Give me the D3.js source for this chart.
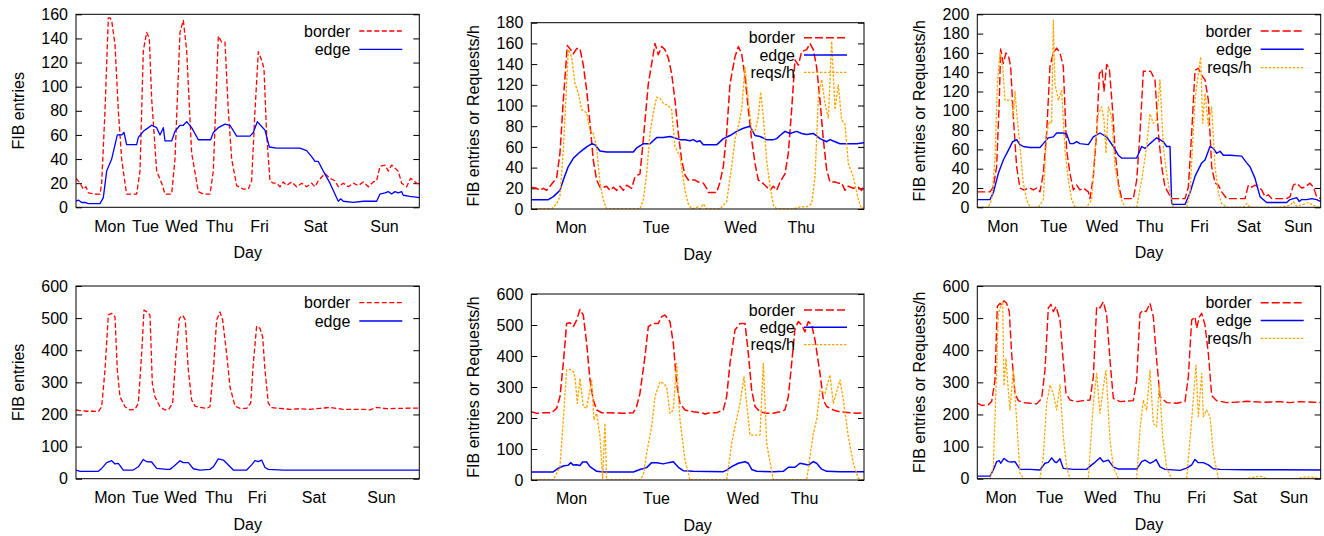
<!DOCTYPE html>
<html>
<head>
<meta charset="utf-8">
<script src="https://cdn.jsdelivr.net/npm/d3@7"></script>
<style>
  body { margin: 0; background: #fff; }
  svg text { font-family: "Liberation Sans", Arial, sans-serif; font-size: 16px; fill: #000; }
</style>
</head>
<body>
<svg id="chart"></svg>
<script>
// x values are sample positions along each trace, y values are FIB entries or requests/h
const weekDays = ["Mon", "Tue", "Wed", "Thu", "Fri", "Sat", "Sun"];
const fourDays = ["Mon", "Tue", "Wed", "Thu"];

const p1DayTicks = [100, 207, 315, 429, 549, 717, 924];
const p2DayTicks = [118, 373, 626, 808];
const p3DayTicks = [75, 228, 373, 516, 665, 813, 961];
const p4DayTicks = [100, 207, 312, 427, 542, 712, 915];
const p5DayTicks = [119, 374, 634, 818];
const p6DayTicks = [70, 216, 368, 508, 656, 801, 948];

const p1Border = [[0,24],[12,20],[22,15],[30,17],[37,12],[57,11],[72,11],[77,20],[87,80],[97,157],[102,157],[107,155],[117,135],[127,80],[137,40],[147,20],[152,11],[182,11],[192,30],[202,130],[212,145],[220,140],[227,90],[242,30],[257,20],[267,11],[287,11],[297,40],[312,145],[322,155],[332,130],[347,45],[367,13],[382,11],[402,11],[412,30],[427,142],[437,137],[447,137],[457,80],[467,40],[482,18],[502,15],[517,15],[527,22],[537,80],[547,129],[557,122],[564,115],[572,60],[582,22],[592,20],[602,20],[612,17],[622,21],[632,18],[647,21],[662,17],[677,20],[692,17],[707,20],[717,17],[727,22],[747,28],[762,24],[777,22],[787,17],[802,20],[817,17],[832,20],[847,18],[862,21],[877,17],[892,21],[902,22],[912,34],[927,35],[937,30],[947,35],[967,30],[977,20],[992,17],[1004,24],[1022,20],[1030,19]];
const p1Edge = [[0,5],[7,6],[17,4],[27,4],[37,3],[72,3],[82,8],[92,30],[107,40],[124,60],[137,60],[144,62],[152,52],[182,52],[187,58],[202,63],[212,65],[227,68],[242,66],[252,60],[262,66],[267,55],[287,55],[297,63],[312,68],[322,68],[332,71],[347,66],[367,56],[404,56],[412,62],[427,66],[447,69],[462,68],[482,59],[522,59],[532,62],[544,71],[557,67],[567,64],[580,50],[602,49],[672,49],[692,47],[707,42],[717,38],[727,38],[742,30],[762,20],[782,8],[787,5],[794,7],[802,5],[832,4],[862,5],[902,5],[912,11],[927,12],[937,13],[947,11],[957,13],[967,12],[977,13],[982,10],[1002,9],[1030,8]];

const p2Border = [[0,21],[16,20],[26,18],[36,20],[46,18],[56,22],[66,26],[76,30],[86,54],[96,105],[108,158],[118,154],[126,150],[136,155],[146,155],[156,139],[166,115],[176,83],[186,47],[196,28],[206,21],[216,21],[226,22],[236,18],[246,21],[256,18],[266,22],[276,18],[286,23],[301,20],[311,31],[326,34],[336,67],[351,121],[366,150],[371,160],[381,149],[391,157],[401,154],[411,146],[421,131],[431,105],[441,73],[451,47],[461,33],[471,28],[491,28],[501,26],[516,25],[526,20],[531,16],[556,16],[566,26],[576,41],[586,73],[596,121],[611,147],[621,157],[631,150],[641,128],[651,96],[661,67],[671,44],[681,28],[691,26],[701,23],[716,18],[726,22],[736,18],[746,26],[761,34],[771,54],[781,96],[791,144],[801,139],[811,152],[826,154],[836,160],[846,154],[856,137],[866,105],[876,67],[886,38],[896,26],[911,26],[921,25],[931,25],[941,18],[951,22],[966,20],[981,21],[991,18],[998,23]];
const p2Edge = [[0,9],[26,9],[51,9],[66,12],[86,18],[96,28],[111,41],[126,49],[146,55],[166,60],[181,63],[191,62],[206,56],[226,55],[256,55],[286,55],[306,55],[316,59],[336,63],[356,63],[376,69],[396,69],[416,70],[426,69],[446,67],[461,67],[476,66],[486,67],[496,65],[506,66],[516,62],[526,62],[556,62],[576,68],[596,71],[616,75],[636,78],[656,80],[671,71],[686,70],[706,67],[726,67],[736,68],[746,71],[761,75],[776,73],[796,75],[811,73],[826,72],[846,73],[866,68],[886,65],[896,67],[911,65],[926,63],[956,63],[976,63],[998,64]];
const p2Reqs = [[0,0],[61,0],[76,5],[86,12],[96,57],[106,121],[111,154],[121,147],[131,121],[141,112],[151,96],[166,93],[176,76],[186,73],[196,60],[206,25],[216,9],[226,0],[326,0],[336,9],[346,34],[356,73],[366,93],[376,108],[386,107],[396,102],[411,100],[421,96],[431,60],[446,51],[461,18],[471,5],[481,0],[501,2],[506,0],[516,5],[526,0],[566,0],[586,7],[601,41],[611,67],[621,80],[631,96],[641,137],[651,105],[661,76],[671,75],[681,89],[688,113],[696,89],[706,47],[716,22],[726,4],[736,0],[786,0],[806,2],[826,2],[841,5],[851,31],[861,108],[871,125],[881,102],[891,88],[901,162],[911,96],[921,120],[931,86],[941,82],[951,44],[966,31],[981,9],[991,0],[998,2]];

const p3Border = [[0,16],[38,16],[48,21],[58,42],[66,111],[70,164],[78,149],[86,160],[94,156],[100,146],[108,94],[118,42],[128,20],[138,18],[148,19],[158,20],[168,18],[178,20],[188,16],[198,35],[208,77],[218,146],[228,160],[238,165],[248,160],[258,146],[268,59],[278,35],[288,18],[298,23],[308,18],[318,20],[333,16],[338,9],[348,32],[358,77],[366,138],[374,143],[380,120],[388,148],[396,144],[406,100],[413,60],[423,25],[433,9],[468,9],[478,28],[488,77],[498,141],[508,141],[520,141],[533,132],[543,77],[553,42],[563,21],[573,15],[583,9],[623,9],[633,21],[643,77],[653,142],[663,144],[673,137],[683,132],[693,111],[703,42],[713,25],[723,23],[733,16],[748,9],[803,9],[813,23],[823,21],[833,23],[843,21],[853,18],[863,11],[873,13],[883,9],[928,9],[938,11],[948,23],[958,25],[973,20],[983,21],[998,25],[1008,21],[1018,11],[1030,9]];
const p3Edge = [[0,8],[38,8],[48,15],[63,35],[78,49],[93,59],[106,68],[118,70],[128,65],[138,63],[158,62],[188,62],[198,66],[213,72],[228,73],[238,77],[258,77],[268,76],[278,66],[288,66],[298,68],[308,66],[333,65],[348,73],[368,77],[388,73],[408,63],[423,54],[433,51],[478,51],[493,63],[503,61],[518,66],[538,72],[558,68],[568,63],[578,63],[583,4],[588,3],[623,3],[638,15],[653,32],[673,46],[683,49],[698,63],[708,61],[718,56],[728,58],[738,54],[758,54],[793,53],[808,46],[818,42],[833,30],[848,11],[868,5],[928,5],[938,8],[948,9],[958,10],[966,6],[973,8],[988,8],[1003,9],[1018,8],[1030,6]];
const p3Reqs = [[0,0],[33,0],[43,8],[53,49],[60,128],[68,160],[76,146],[83,111],[93,111],[103,111],[108,94],[113,120],[120,91],[128,63],[138,25],[148,8],[158,0],[183,0],[198,8],[208,77],[216,89],[223,87],[228,194],[233,128],[243,111],[253,121],[263,59],[273,28],[283,8],[293,0],[328,0],[343,8],[353,59],[363,97],[373,104],[380,91],[386,56],[393,104],[403,94],[413,42],[428,11],[443,0],[478,0],[493,28],[508,63],[518,97],[528,87],[538,91],[548,132],[558,63],[568,35],[578,15],[588,0],[628,0],[638,15],[653,111],[663,139],[670,156],[676,87],[683,118],[693,84],[703,104],[713,42],[723,15],[733,4],[748,0],[798,0],[808,4],[818,0],[908,0],[938,2],[948,6],[958,1],[978,3],[993,5],[1008,2],[1023,0],[1030,0]];

const p4Border = [[0,214],[12,212],[32,210],[52,210],[67,209],[77,224],[87,338],[97,510],[107,515],[117,504],[124,338],[132,255],[147,224],[162,214],[177,216],[187,235],[197,389],[204,525],[214,519],[222,509],[229,297],[237,255],[252,224],[267,214],[277,214],[290,235],[300,389],[310,499],[320,509],[328,494],[337,338],[347,245],[357,226],[372,222],[392,219],[402,224],[412,338],[422,494],[432,519],[440,494],[452,389],[462,286],[477,226],[492,219],[512,219],[524,235],[532,359],[542,475],[552,468],[560,442],[567,338],[577,235],[587,221],[612,219],[642,216],[672,218],[702,216],[732,219],[762,222],[802,216],[832,216],[862,216],[882,214],[902,222],[932,218],[972,219],[1030,220]];
const p4Edge = [[0,27],[12,23],[32,23],[67,23],[77,32],[92,50],[107,56],[117,46],[127,48],[142,27],[172,27],[187,37],[202,60],[212,53],[227,52],[242,32],[272,29],[282,29],[292,37],[312,56],[322,50],[337,50],[352,31],[372,27],[402,29],[412,37],[427,62],[442,58],[452,48],[472,27],[492,27],[512,27],[527,43],[537,56],[547,53],[557,58],[567,35],[577,29],[622,27],[672,27],[772,27],[872,27],[1030,27]];

const p5Border = [[0,220],[16,215],[36,217],[61,217],[76,231],[86,269],[96,376],[106,505],[116,507],[126,495],[136,516],[146,550],[156,532],[166,441],[176,323],[186,258],[196,226],[211,217],[236,217],[276,215],[306,217],[316,237],[326,280],[341,398],[351,495],[366,505],[381,505],[391,527],[401,532],[416,511],[426,441],[436,312],[446,247],[461,226],[486,220],[511,217],[521,213],[536,217],[556,217],[576,226],[586,269],[596,376],[611,484],[626,505],[641,505],[651,409],[661,290],[671,237],[686,220],[706,215],[726,215],[746,220],[761,226],[771,269],[781,376],[791,489],[801,511],[811,500],[821,478],[831,511],[841,500],[851,452],[866,344],[876,258],[886,237],[906,226],[926,220],[956,217],[976,215],[998,217]];
const p5Edge = [[0,26],[66,26],[81,38],[96,45],[111,48],[118,56],[126,48],[136,49],[146,47],[154,58],[166,58],[176,43],[196,28],[216,26],[306,26],[326,34],[346,40],[361,56],[376,56],[396,52],[411,56],[426,59],[441,41],[456,30],[486,28],[576,27],[586,32],[601,43],[621,54],[641,59],[651,54],[661,34],[676,28],[726,27],[756,28],[771,41],[791,41],[806,54],[821,51],[831,48],[846,59],[856,54],[871,35],[886,28],[926,27],[998,27]];
const p5Reqs = [[0,0],[66,0],[86,43],[96,194],[106,355],[116,357],[126,349],[131,333],[138,247],[146,328],[156,237],[166,231],[181,323],[188,194],[196,215],[206,140],[214,5],[221,183],[226,0],[326,0],[336,16],[346,86],[361,172],[371,269],[386,317],[396,312],[406,301],[416,215],[426,226],[436,376],[446,194],[461,65],[476,0],[586,0],[601,118],[611,172],[626,247],[638,333],[646,247],[656,145],[676,145],[686,145],[696,376],[706,118],[726,0],[826,0],[836,75],[846,151],[856,194],[866,290],[881,279],[896,339],[906,247],[926,323],[936,258],[951,140],[966,54],[981,5],[991,0],[998,0]];

const p6Border = [[0,235],[13,228],[33,230],[43,240],[53,307],[60,536],[68,546],[73,541],[80,554],[88,546],[96,520],[103,390],[113,266],[123,243],[138,237],[158,235],[178,233],[193,250],[203,338],[213,532],[221,543],[228,520],[236,536],[248,494],[256,390],[266,266],[278,245],[298,240],[318,243],[338,245],[348,317],[358,536],[368,532],[378,551],[388,510],[398,369],[408,250],[428,240],[468,243],[478,307],[488,515],[498,525],[506,520],[518,546],[528,504],[538,369],[548,255],[568,237],[598,235],[623,240],[633,317],[643,494],[653,504],[658,468],[666,504],[673,515],[683,478],[693,390],[703,259],[718,243],[748,237],[788,239],[808,241],[858,238],[908,240],[938,237],[968,240],[1008,238],[1030,237]];
const p6Edge = [[0,8],[38,8],[48,27],[58,53],[66,56],[70,48],[80,63],[93,53],[103,52],[113,53],[128,29],[158,29],[188,27],[203,48],[213,51],[223,65],[233,52],[238,50],[248,62],[258,32],[288,29],[328,29],[343,43],[353,51],[368,65],[378,53],[393,58],[408,37],[423,30],[478,30],[493,53],[503,58],[518,48],[528,53],[536,60],[548,37],[563,29],[608,26],[628,33],[643,43],[653,60],[663,50],[678,50],[693,43],[708,31],[728,29],[808,28],[908,28],[1030,27]];
const p6Reqs = [[0,0],[38,0],[48,37],[58,338],[63,515],[70,536],[76,551],[80,289],[86,374],[93,276],[98,214],[108,338],[118,183],[128,17],[138,0],[188,0],[198,69],[208,235],[218,292],[228,265],[238,214],[248,292],[258,131],[268,37],[278,0],[333,0],[348,235],[358,328],[368,203],[378,286],[386,338],[398,120],[408,37],[423,0],[478,0],[488,152],[498,245],[508,214],[518,338],[528,172],[538,162],[546,297],[556,131],[568,32],[583,0],[628,0],[643,183],[656,354],[663,193],[673,328],[678,193],[688,214],[698,193],[708,79],[723,0],[808,0],[828,4],[848,8],[868,0],[958,0],[988,6],[1008,4],[1030,0]];

const svg = d3.select("#chart").attr("width", 1324).attr("height", 536);

const seriesStyle = {
  border: { color: "#ff0000", label: "border" },
  edge: { color: "#0000ff", label: "edge" },
  reqs: { color: "#ffa500", label: "reqs/h" },
};

const panels = [
  { left: 76, top: 14.3, width: 343.3, height: 193, yMax: 160, yStep: 20, yLabel: "FIB entries",
    ticks: p1DayTicks, days: weekDays, xMax: 1030, lw: 1.3, dash: "5,2.5", dot: "2,1.5",
    legTop: 16.7, legGap: 18.3, series: [["border", p1Border], ["edge", p1Edge]] },
  { left: 531.3, top: 22.7, width: 332.7, height: 186.3, yMax: 180, yStep: 20, yLabel: "FIB entries or Requests/h",
    ticks: p2DayTicks, days: fourDays, xMax: 998, lw: 1.5, dash: "8,3", dot: "2.5,1.5",
    legTop: 15, legGap: 17.3, series: [["border", p2Border], ["edge", p2Edge], ["reqs", p2Reqs]] },
  { left: 977.3, top: 14.3, width: 343.4, height: 193, yMax: 200, yStep: 20, yLabel: "FIB entries or Requests/h",
    ticks: p3DayTicks, days: weekDays, xMax: 1030, lw: 1.4, dash: "8,3", dot: "2.5,1.5",
    legTop: 16.7, legGap: 18.3, series: [["border", p3Border], ["edge", p3Edge], ["reqs", p3Reqs]] },
  { left: 76, top: 286, width: 343.3, height: 192.7, yMax: 600, yStep: 100, yLabel: "FIB entries",
    ticks: p4DayTicks, days: weekDays, xMax: 1030, lw: 1.3, dash: "5,2.5", dot: "2,1.5",
    legTop: 16.7, legGap: 18.3, series: [["border", p4Border], ["edge", p4Edge]] },
  { left: 531.3, top: 294, width: 332.7, height: 186, yMax: 600, yStep: 100, yLabel: "FIB entries or Requests/h",
    ticks: p5DayTicks, days: fourDays, xMax: 998, lw: 1.5, dash: "8,3", dot: "2.5,1.5",
    legTop: 16, legGap: 17.3, series: [["border", p5Border], ["edge", p5Edge], ["reqs", p5Reqs]] },
  { left: 977.3, top: 286, width: 343.4, height: 192.7, yMax: 600, yStep: 100, yLabel: "FIB entries or Requests/h",
    ticks: p6DayTicks, days: weekDays, xMax: 1030, lw: 1.4, dash: "8,3", dot: "2.5,1.5",
    legTop: 16.7, legGap: 17.8, series: [["border", p6Border], ["edge", p6Edge], ["reqs", p6Reqs]] },
];

const drawPanel = (p) => {
  const g = svg.append("g").attr("transform", `translate(${p.left}, ${p.top})`);

  const x = d3.scaleLinear().domain([0, p.xMax]).range([0, p.width]);
  const y = d3.scaleLinear().domain([0, p.yMax]).range([p.height, 0]);
  const yTicks = d3.range(0, p.yMax + 1, p.yStep);

  const yAxis = g.append("g").call(
    d3.axisLeft(y).tickValues(yTicks).tickSizeInner(-6).tickSizeOuter(0).tickPadding(8)
  );
  const yAxisRight = g.append("g").attr("transform", `translate(${p.width}, 0)`).call(
    d3.axisRight(y).tickValues(yTicks).tickSizeInner(-6).tickSizeOuter(0).tickFormat("")
  );
  const xAxis = g.append("g").attr("transform", `translate(0, ${p.height})`).call(
    d3.axisBottom(x).tickValues(p.ticks).tickFormat((d, i) => p.days[i]).tickSize(0).tickPadding(13)
  );

  [yAxis, yAxisRight, xAxis].forEach((a) => {
    a.select(".domain").remove();
    a.selectAll("text").attr("font-size", null).attr("font-family", null);
    a.selectAll("line").attr("stroke", "#000");
  });

  const clipId = `clip-${p.left}-${p.top}`.replace(/\./g, "_");
  g.append("clipPath").attr("id", clipId)
    .append("rect").attr("width", p.width).attr("height", p.height);

  const line = d3.line().x((d) => x(d[0])).y((d) => y(d[1]));

  const plot = g.append("g").attr("clip-path", `url(#${clipId})`);

  const dashFor = (key) => (key === "border" ? p.dash : key === "reqs" ? p.dot : null);
  const widthFor = (key) => (key === "reqs" ? p.lw * 0.9 : p.lw);

  p.series.forEach(([key, data], i) => {
    plot.append("path")
      .attr("d", line(data))
      .attr("fill", "none")
      .attr("stroke", seriesStyle[key].color)
      .attr("stroke-width", widthFor(key))
      .attr("stroke-dasharray", dashFor(key))
      .attr("stroke-linejoin", "round");

    const ly = p.legTop + i * p.legGap;
    g.append("text")
      .attr("x", p.width - 69)
      .attr("y", ly)
      .attr("dy", "0.35em")
      .attr("text-anchor", "end")
      .text(seriesStyle[key].label);
    g.append("line")
      .attr("x1", p.width - 60)
      .attr("x2", p.width - 17)
      .attr("y1", ly)
      .attr("y2", ly)
      .attr("stroke", seriesStyle[key].color)
      .attr("stroke-width", widthFor(key))
      .attr("stroke-dasharray", dashFor(key));
  });

  g.append("rect")
    .attr("width", p.width)
    .attr("height", p.height)
    .attr("fill", "none")
    .attr("stroke", "#000")
    .attr("stroke-width", 1);

  g.append("text")
    .attr("transform", `translate(${-58}, ${p.height / 2}) rotate(-90)`)
    .attr("text-anchor", "middle")
    .attr("dy", "0.35em")
    .text(p.yLabel);

  g.append("text")
    .attr("x", p.width / 2)
    .attr("y", p.height + 51)
    .attr("text-anchor", "middle")
    .text("Day");
};

panels.forEach(drawPanel);
</script>
</body>
</html>
